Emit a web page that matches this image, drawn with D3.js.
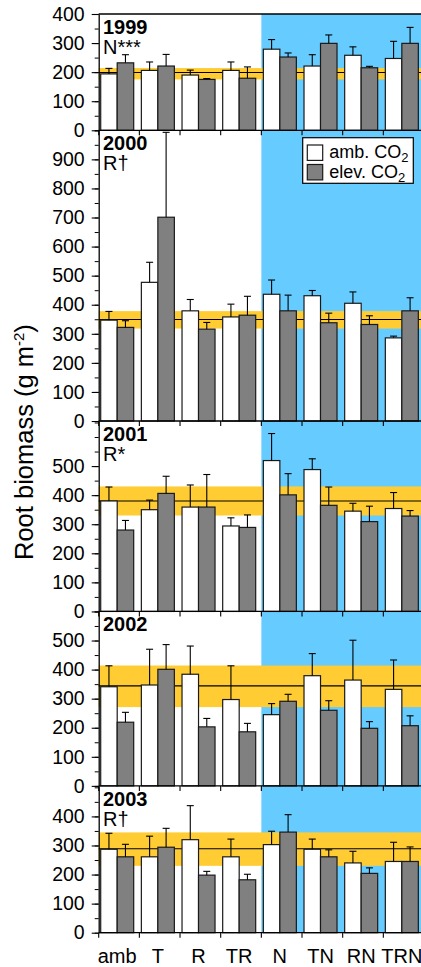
<!DOCTYPE html>
<html>
<head>
<meta charset="utf-8">
<script src="https://cdn.jsdelivr.net/npm/d3@7"></script>
<style>
  body { margin: 0; background: #fff; }
  svg { display: block; font-family: "Liberation Sans", Arial, sans-serif; }
</style>
</head>
<body>
<div id="chart"></div>
<script>
// treatments and years
const groups = ["amb", "T", "R", "TR", "N", "TN", "RN", "TRN"];
const years = ["1999", "2000", "2001", "2002", "2003"];
const effects = ["N***", "R\u2020", "R*", "", "R\u2020"];
const yMax = [400, 1000, 655, 600, 505];
const labelMax = [400, 900, 500, 500, 400];

// root biomass (g m-2), ambient CO2
const ambMean = [
  [194, 206, 190, 206, 279, 221, 258, 247],
  [347, 477, 379, 358, 436, 431, 405, 286],
  [380, 350, 359, 294, 519, 488, 345, 354],
  [341, 347, 384, 297, 245, 379, 364, 332],
  [287, 261, 320, 261, 303, 287, 240, 245]
];
const ambSE = [
  [19, 29, 17, 29, 33, 39, 29, 59],
  [30, 69, 39, 44, 49, 18, 39, 6],
  [48, 33, 76, 28, 93, 37, 27, 55],
  [72, 123, 97, 116, 38, 76, 137, 101],
  [55, 71, 117, 61, 46, 35, 40, 66]
];
// elevated CO2
const elevMean = [
  [232, 221, 175, 179, 252, 299, 215, 299],
  [322, 701, 316, 364, 379, 338, 332, 379],
  [280, 406, 359, 289, 401, 365, 309, 328],
  [219, 401, 203, 186, 291, 260, 198, 207],
  [261, 294, 198, 182, 346, 261, 204, 245]
];
const elevSE = [
  [28, 40, 3, 39, 14, 29, 5, 55],
  [23, 292, 23, 65, 54, 33, 30, 45],
  [33, 59, 112, 43, 73, 63, 53, 19],
  [34, 85, 29, 29, 24, 33, 23, 34],
  [43, 65, 13, 19, 60, 24, 19, 50]
];
// grand mean and its confidence band per year
const grandMean = [199, 349, 380, 344, 289];
const bandLow = [175, 318, 330, 271, 230];
const bandHigh = [214, 378, 430, 414, 345];

const width = 421, height = 967;
const left = 98.7, right = 424;
const top0 = 14, bottom0 = 932.7;
const blue = "#66ccff", yellow = "#ffcc33", grey = "#808080";

const svg = d3.select("#chart").append("svg")
  .attr("width", width)
  .attr("height", height);

const x = d3.scaleBand().domain(groups).range([left, right]);
const xInner = d3.scaleBand().domain(["amb", "elev"]).range([2, 35]);

// nitrogen-treated background
svg.append("rect")
  .attr("x", x("N")).attr("y", top0)
  .attr("width", right - x("N")).attr("height", bottom0 - top0)
  .attr("fill", blue);

const k = (bottom0 - top0) / d3.sum(yMax);
let panelTop = top0;

years.forEach((year, i) => {
  const panelBottom = panelTop + yMax[i] * k;
  const y = d3.scaleLinear().domain([0, yMax[i]]).range([panelBottom, panelTop]);
  const g = svg.append("g");

  // band and mean line
  g.append("rect")
    .attr("x", left).attr("width", right - left)
    .attr("y", y(bandHigh[i])).attr("height", y(bandLow[i]) - y(bandHigh[i]))
    .attr("fill", yellow);
  g.append("line")
    .attr("x1", left).attr("x2", right)
    .attr("y1", y(grandMean[i])).attr("y2", y(grandMean[i]))
    .attr("stroke", "#000").attr("stroke-width", 1.1);

  const rows = groups.map((grp, j) => [
    { grp, key: "amb", v: ambMean[i][j], se: ambSE[i][j] },
    { grp, key: "elev", v: elevMean[i][j], se: elevSE[i][j] }
  ]).flat();

  g.selectAll(".bar").data(rows).enter().append("rect")
    .attr("x", d => x(d.grp) + xInner(d.key))
    .attr("width", xInner.bandwidth())
    .attr("y", d => y(d.v))
    .attr("height", d => y(0) - y(d.v))
    .attr("fill", d => d.key === "amb" ? "#fff" : grey)
    .attr("stroke", "#1a1a1a").attr("stroke-width", 1.2);

  const err = g.selectAll(".err").data(rows).enter().append("g")
    .attr("transform", d => `translate(${x(d.grp) + xInner(d.key) + xInner.bandwidth() / 2},0)`);
  err.append("line")
    .attr("y1", d => y(d.v)).attr("y2", d => y(d.v + d.se))
    .attr("stroke", "#000").attr("stroke-width", 1.1);
  err.append("line")
    .attr("x1", -3.5).attr("x2", 3.5)
    .attr("y1", d => y(d.v + d.se)).attr("y2", d => y(d.v + d.se))
    .attr("stroke", "#000").attr("stroke-width", 1.1);

  // y axis: minor and major ticks
  const minor = d3.range(0, yMax[i] + 1, 50);
  g.append("g")
    .attr("transform", `translate(${left},0)`)
    .call(d3.axisLeft(y).tickValues(minor).tickSize(4).tickSizeOuter(0).tickFormat(""))
    .call(a => a.select(".domain").attr("stroke-width", 1.3));
  g.append("g")
    .attr("transform", `translate(${left},0)`)
    .call(d3.axisLeft(y).tickValues(d3.range(0, labelMax[i] + 1, 100)).tickSize(7).tickPadding(7).tickSizeOuter(0))
    .call(a => a.select(".domain").remove())
    .call(a => a.selectAll("text").attr("font-size", 19.5).attr("font-family", "Liberation Sans, Arial, sans-serif").attr("fill", "#000"))
    .call(a => a.selectAll("line").attr("stroke-width", 1.1));

  // x axis line with group ticks
  g.append("line")
    .attr("x1", left).attr("x2", right)
    .attr("y1", y(0)).attr("y2", y(0))
    .attr("stroke", "#000").attr("stroke-width", 1.3);
  g.selectAll(".xt").data(groups).enter().append("line")
    .attr("x1", d => x(d)).attr("x2", d => x(d))
    .attr("y1", y(0)).attr("y2", y(0) + 5)
    .attr("stroke", "#000").attr("stroke-width", 1.1);
  if (i === 0) {
    g.append("line")
      .attr("x1", left).attr("x2", right)
      .attr("y1", panelTop).attr("y2", panelTop)
      .attr("stroke", "#000").attr("stroke-width", 1.3);
  }

  g.append("text")
    .attr("x", 103).attr("y", panelTop + 20)
    .attr("font-size", 20).attr("font-weight", "bold")
    .text(year);
  g.append("text")
    .attr("x", 103).attr("y", panelTop + 40)
    .attr("font-size", 20)
    .text(effects[i]);

  panelTop = panelBottom;
});

// treatment labels
svg.selectAll(".xl").data(groups).enter().append("text")
  .attr("x", d => x(d) + 18.5)
  .attr("y", 963)
  .attr("text-anchor", "middle")
  .attr("font-size", 20)
  .text(d => d);

// y title
const title = svg.append("text")
  .attr("transform", "translate(33,560) rotate(-90)")
  .attr("font-size", 25.5);
title.append("tspan").text("Root biomass (g m");
title.append("tspan").attr("font-size", 15).attr("dy", -9).text("-2");
title.append("tspan").attr("dy", 9).text(")");

// legend
const leg = svg.append("g");
leg.append("rect")
  .attr("x", 302.7).attr("y", 137.7).attr("width", 110.6).attr("height", 45.6)
  .attr("fill", "#fff").attr("stroke", "#000").attr("stroke-width", 1.2);
[["amb. CO", "#fff"], ["elev. CO", grey]].forEach(([lab, fill], j) => {
  const yy = 145 + j * 19.5;
  leg.append("rect")
    .attr("x", 307.3).attr("y", yy).attr("width", 15.4).attr("height", 15.4)
    .attr("fill", fill).attr("stroke", "#1a1a1a").attr("stroke-width", 1.2);
  const t = leg.append("text")
    .attr("x", 329.3).attr("y", yy + 13.3)
    .attr("font-size", 18);
  t.append("tspan").text(lab);
  t.append("tspan").attr("font-size", 13).attr("dy", 4).text("2");
});
</script>
</body>
</html>
